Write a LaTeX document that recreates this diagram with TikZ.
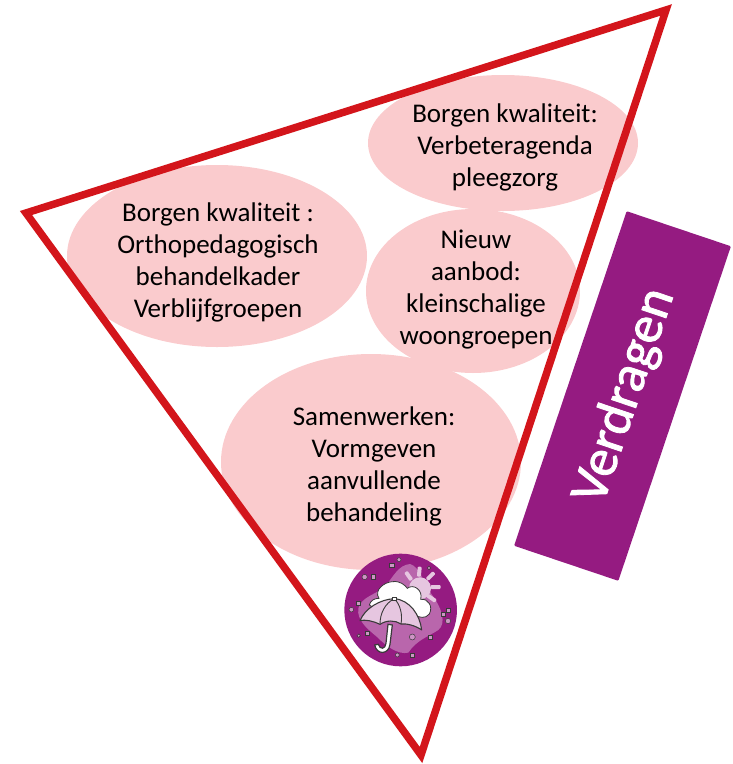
\documentclass[tikz,border=0pt]{standalone}
\usepackage{fontspec}
\setmainfont{Carlito}
\newfontfamily\vfont[FakeBold=1.6]{Carlito}
\definecolor{pinkfill}{HTML}{FACBCD}
\definecolor{redline}{HTML}{D3151B}
\definecolor{purp}{HTML}{951B81}
\definecolor{blob}{HTML}{B966AC}
\definecolor{lil}{HTML}{E6C6E0}
\definecolor{ink}{HTML}{3A3A3A}
\usetikzlibrary{shapes.geometric}
\tikzset{
  bubble/.style={ellipse,fill=pinkfill,inner sep=0pt},
  lbl/.style={align=center,font=\fontsize{27}{32}\selectfont,text=black},
  tiny/.style={draw=ink,line width=0.5pt,fill=blob!70!white},
  ray/.style={draw=none,fill=lil,rounded corners=1pt},
}
\begin{document}
\begin{tikzpicture}[x=1pt,y=-1pt]
\useasboundingbox (0,0) rectangle (733,764);
\node[bubble,minimum width=300pt,minimum height=182pt] (b1) at (217,256) {};
\node[bubble,minimum width=270pt,minimum height=136pt] (b2) at (503,143) {};
\node[bubble,minimum width=214pt,minimum height=164pt] (b3) at (473,291) {};
\node[bubble,minimum width=300pt,minimum height=216pt] (b4) at (371,462) {};
\coordinate (ta) at (666,10);
\coordinate (tb) at (26,213);
\coordinate (tc) at (421,755);
\draw[redline,line width=7.5pt,miter limit=10] (ta) -- (tb) -- (tc) -- cycle;
\node[lbl] (t1) at (218,262) {Borgen kwaliteit :\\Orthopedagogisch\\behandelkader\\Verblijfgroepen};
\node[lbl] (t2) at (505,147) {Borgen kwaliteit:\\Verbeteragenda\\pleegzorg};
\node[lbl] (t3) at (476,290) {Nieuw\\aanbod:\\kleinschalige\\woongroepen};
\node[lbl] (t4) at (374,466) {Samenwerken:\\Vormgeven\\aanvullende\\behandeling};
\node[draw=none,fill=purp,rounded corners=1pt,minimum width=353pt,minimum height=110pt,rotate=71.4,inner sep=0pt] (vb) at (622.5,396) {};
\node[rotate=71.4,text=white,font=\fontsize{53.5}{60}\vfont\selectfont,inner sep=0pt] (vt) at (625,396) {Verdragen};
\begin{scope}[shift={(330,540)},x=0.3333pt,y=-0.3333pt]
\fill[purp] (212,210) circle (169);
\fill[blob] (85,205) .. controls (95,170) and (135,165) .. (165,140) .. controls (190,110) and (205,75) .. (240,72) .. controls (270,80) and (280,130) .. (310,170) .. controls (335,205) and (350,250) .. (325,270) .. controls (295,290) and (260,300) .. (235,338) .. controls (205,345) and (170,320) .. (140,290) .. controls (110,265) and (80,240) .. (85,205) -- cycle;
\fill[lil] (270,145) circle (33);
\foreach \a/\x/\y in {85/268/95,45/302/108,0/317/141,-35/305/175,125/236/108}{
  \node[ray,rotate=\a,minimum width=10pt,minimum height=4pt,inner sep=0pt] at (\x,\y) {};
}
\draw[ink,fill=white,line width=0.8pt] (118,195) .. controls (122,180) and (135,175) .. (147,175) .. controls (130,150) and (165,125) .. (188,125) .. controls (210,122) and (225,135) .. (232,145) .. controls (250,130) and (280,150) .. (272,178) .. controls (295,175) and (310,200) .. (298,222) .. controls (285,238) and (270,232) .. (250,225) -- (150,215) -- cycle;
\draw[ink,fill=white,line width=1.2pt,line cap=round] (187,255) -- (180,313) .. controls (176,345) and (140,345) .. (134,315) -- (145,313) .. controls (150,330) and (166,328) .. (168,310) -- (174,253) -- cycle;
\draw[ink,fill=lil,line width=1.1pt,line join=round] (90,242) .. controls (105,205) and (150,178) .. (193,176) .. controls (240,180) and (270,225) .. (275,270) .. controls (255,255) and (225,250) .. (213,252) .. controls (195,240) and (170,240) .. (150,253) .. controls (130,243) and (105,238) .. (90,242) -- cycle;
\draw[ink,line width=0.9pt] (193,176) .. controls (165,190) and (150,220) .. (150,253);
\draw[ink,line width=0.9pt] (193,176) .. controls (212,195) and (218,225) .. (213,252);
\draw[ink,fill=white,line width=0.7pt] (188,171) rectangle (199,181);
\foreach \x/\y in {185/76,129/110,85/190,355/211,340/222,112/280,300/292,246/346}{
  \draw[tiny] (\x-6.5,\y-6.5) rectangle (\x+6.5,\y+6.5);
}
\foreach \x/\y/\r in {207/59/6,104/111/8,297/84/5,64/209/7,354/243/8,86/287/5,247/291/9,202/345/6}{
  \draw[tiny] (\x,\y) circle (\r);
}
\end{scope}
\end{tikzpicture}
\end{document}
